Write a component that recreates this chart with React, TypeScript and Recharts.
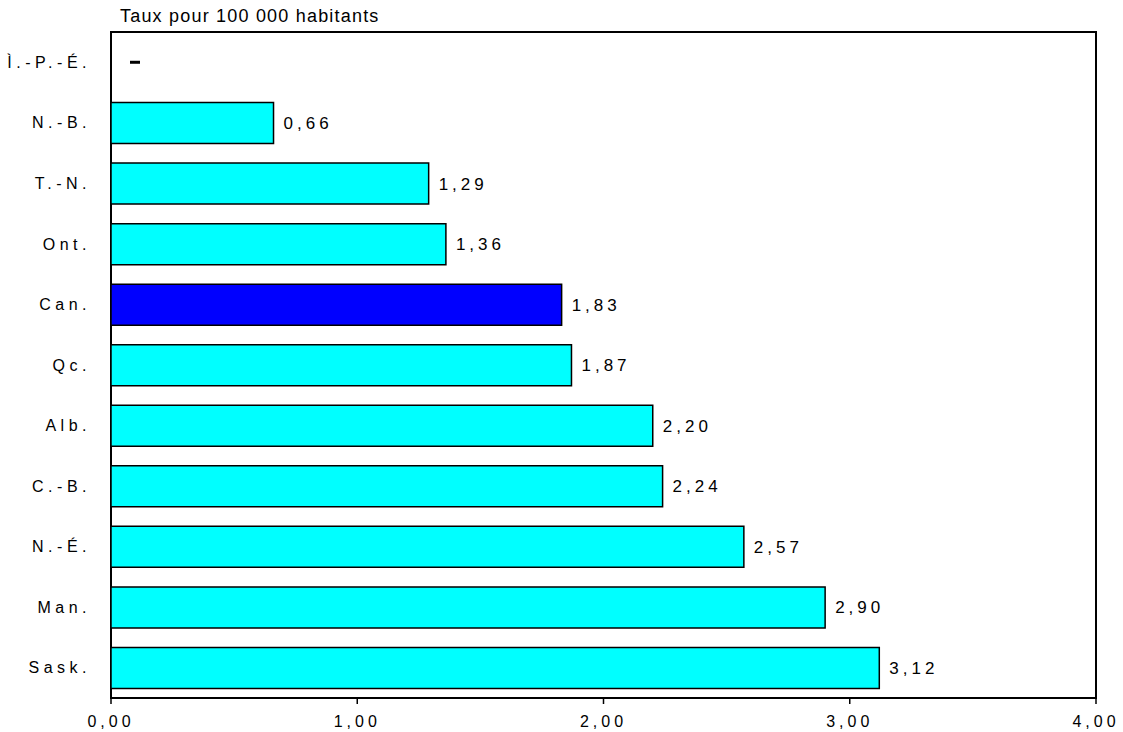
import { Bar, BarChart, Cell, LabelList, ReferenceArea, ReferenceDot, XAxis, YAxis } from "recharts";

// Provinces, top to bottom
const provinces = ["Ì.-P.-É.", "N.-B.", "T.-N.", "Ont.", "Can.", "Qc.", "Alb.", "C.-B.", "N.-É.", "Man.", "Sask."];
// Rate per 100 000 inhabitants (null = no data)
const rates: (number | null)[] = [null, 0.66, 1.29, 1.36, 1.83, 1.87, 2.2, 2.24, 2.57, 2.9, 3.12];
const xTicks = [0, 1, 2, 3, 4];
const title = "Taux pour 100 000 habitants";

const data = provinces.map((p, i) => ({ province: p, rate: rates[i] }));
const missing = data.filter((d) => d.rate === null);

const fmt = (v: number) => v.toFixed(2).replace(".", ",");
const FONT = "'Liberation Sans', Arial, sans-serif";

const ValueLabel = (props: any) => {
  const { x, y, width, height, value } = props;
  if (value === null || value === undefined) return null;
  return (
    <text
      x={Number(x) + Number(width) + 10}
      y={Number(y) + Number(height) / 2}
      dy="0.35em"
      fontFamily={FONT}
      fontSize={17}
      letterSpacing={4}
      fill="#000"
    >
      {fmt(Number(value))}
    </text>
  );
};

// "no data" dash drawn at the zero end of the row
const DashLabel = (props: any) => {
  const { viewBox } = props;
  const cx = viewBox.x + viewBox.width / 2;
  const cy = viewBox.y + viewBox.height / 2;
  return <rect x={cx + 19} y={cy - 1.5} width={10} height={3} fill="#000" />;
};

export default function App() {
  return (
    <div style={{ position: "absolute", left: 0, top: 0, width: 1123, height: 732, background: "#fff" }}>
      <div
        style={{
          position: "absolute",
          left: 120,
          top: 6,
          fontFamily: FONT,
          fontSize: 18,
          letterSpacing: 1.2,
          lineHeight: "20px",
          color: "#000",
          whiteSpace: "nowrap",
        }}
      >
        {title}
      </div>
      <BarChart
        width={1123}
        height={732}
        data={data}
        layout="vertical"
        margin={{ top: 32, right: 27, bottom: 2, left: 0 }}
        barSize={41}
      >
        <XAxis
          type="number"
          domain={[0, 4]}
          ticks={xTicks}
          tickFormatter={fmt}
          stroke="#000"
          strokeWidth={1.5}
          tickSize={6}
          tickMargin={12}
          height={32}
          tick={{ fill: "#000", fontSize: 16, fontFamily: FONT, letterSpacing: 4 }}
        />
        <YAxis
          type="category"
          dataKey="province"
          width={111}
          axisLine={false}
          tickLine={false}
          tickMargin={14}
          interval={0}
          tick={{ fill: "#000", fontSize: 16, fontFamily: FONT, letterSpacing: 4.5 }}
        />
        <ReferenceArea x1={0} x2={4} fill="none" stroke="#000" strokeWidth={2} ifOverflow="visible" />
        <Bar dataKey="rate" stroke="#000" strokeWidth={1.5} isAnimationActive={false}>
          {data.map((d) => (
            <Cell key={d.province} fill={d.province === "Can." ? "#0000FF" : "#00FFFF"} />
          ))}
          <LabelList dataKey="rate" content={ValueLabel} />
        </Bar>
        {missing.map((d) => (
          <ReferenceDot
            key={d.province}
            x={0}
            y={d.province}
            r={0}
            fill="none"
            stroke="none"
            ifOverflow="visible"
            label={<DashLabel />}
          />
        ))}
      </BarChart>
    </div>
  );
}
